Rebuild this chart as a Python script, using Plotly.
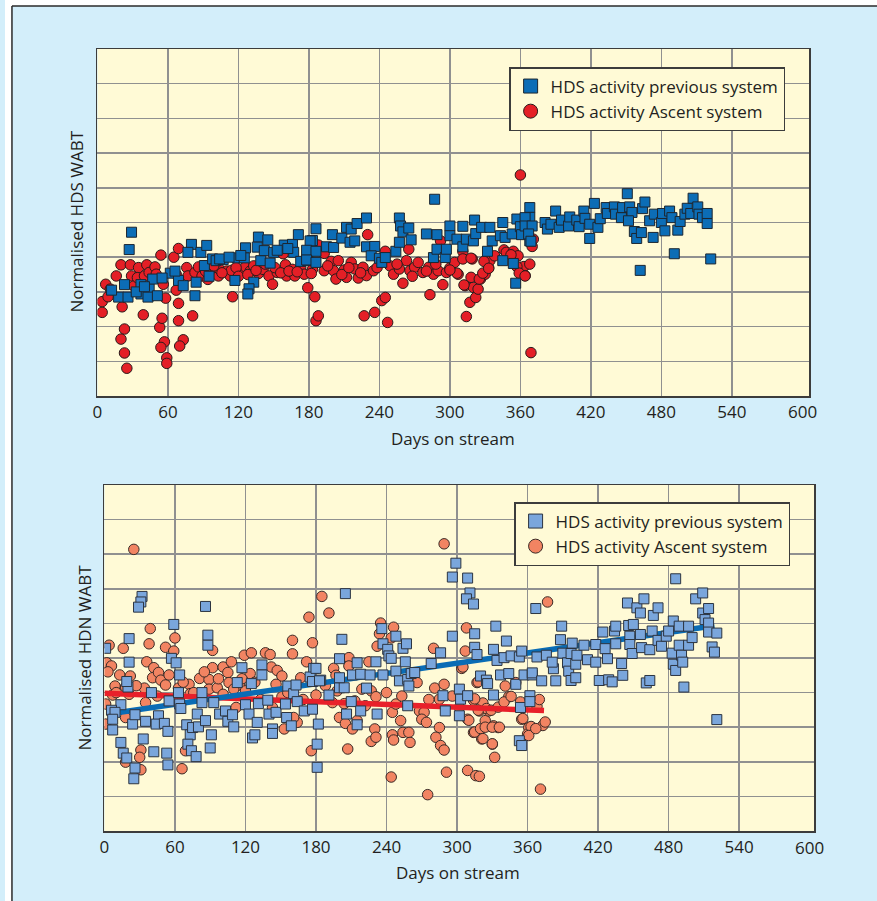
import plotly.graph_objects as go

# ---------------- Top chart (HDS) ----------------
top_prev_days = [29,27,23,18,26,37,37,44,43,47,51,62,69,73,84,83,80,77,88,93,91,95,98,101,107,117,119,126,125,133,129,128,137,136,139,142,145,147,150,159,166,167,171,173,181,183,179,186,
                 181,178,186,178,186,195,200,201,212,208,216,221,229,215,219,229,236,233,240,242,245,254,257,257,258,260,265,267,280,287,289,286,289,296,297,300,300,306,311,311,314,321,320,322,327,334,336,332,345,343,347,345,354,356,357,353,360,361,368,368,368,
                 364,364,370,367,369,381,383,386,390,393,395,401,402,408,410,414,415,419,419,423,426,428,433,434,440,441,446,451,447,453,455,452,457,459,463,462,464,466,470,473,474,480,481,483,487,489,491,494,496,500,502,505,507,511,512,515,519,519,522,
                 12,33,40,55,66,104,112,122,153,162]
top_prev_vals = [4.72,4.22,3.21,2.85,2.85,3.21,2.94,3.09,2.85,3.37,2.89,3.54,3.33,3.18,3.28,2.89,4.37,4.14,4.14,4.34,3.76,3.45,3.95,3.90,3.93,3.33,3.98,4.27,3.98,3.28,3.09,2.94,4.58,4.29,3.90,4.19,4.50,3.83,4.14,4.35,4.37,4.14,4.65,3.88,4.19,4.48,3.90,4.82,
                 4.47,4.20,4.17,3.92,3.85,4.30,4.65,4.28,4.86,4.55,4.81,4.97,5.13,4.43,4.47,4.30,4.31,4.04,3.97,3.85,3.99,4.17,4.43,5.13,4.90,4.73,4.84,4.50,4.67,5.67,4.65,3.99,4.23,3.99,4.23,4.90,4.62,4.52,4.89,4.30,4.52,5.07,4.47,4.68,4.86,4.86,4.47,4.17,5.00,4.62,4.57,3.90,3.82,3.25,5.10,4.67,4.88,4.65,5.43,5.15,4.47,
                 5.14,4.90,4.90,4.67,4.46,5.00,4.81,4.95,5.33,4.86,5.07,4.90,5.16,5.07,4.88,5.33,5.12,4.95,4.54,5.55,4.86,5.11,5.43,5.26,5.45,5.24,5.14,5.83,5.43,5.45,5.29,5.05,4.74,4.54,4.71,3.62,5.40,5.59,5.05,4.57,5.24,5.00,5.26,4.76,5.33,5.14,4.10,4.78,5.03,5.24,5.41,5.26,5.70,5.45,5.24,5.14,5.26,4.97,3.95,
                 3.05,3.00,3.15,3.40,3.60,3.95,4.00,4.05,4.20,4.25]

top_asc_days = [4,4,7,9,11,16,20,21,23,20,23,25,28,29,31,35,34,39,40,42,44,49,50,54,53,55,56,58,57,54,59,59,65,69,67,67,69,69,73,70,81,76,77,83,86,89,94,96,103,104,110,115,113,114,123,126,130,133,137,141,146,149,153,158,160,161,166,168,173,176,179,183,185,186,
                188,182,188,193,193,199,201,203,205,210,212,216,219,222,226,230,227,229,235,236,242,245,247,245,249,252,257,260,263,265,266,270,273,277,282,283,286,290,292,294,297,300,304,307,311,311,313,314,317,319,320,322,324,326,330,333,334,338,346,348,354,358,360,363,364,368,
                312,318,318,325,328,329,333,352,357,359,364,371,370,369,306,300,
                92,99,106,118,120,128,135,143,151,156,163,170,196,208,214,224,238,255,268,280,288]
top_asc_vals = [2.72,2.41,3.22,2.86,3.08,3.46,3.78,2.57,1.93,1.64,1.24,0.80,3.78,3.46,3.17,3.70,3.41,2.34,3.46,3.78,3.56,3.72,3.51,4.06,1.98,2.24,3.22,2.82,1.56,1.40,1.10,0.94,4.00,4.25,3.51,3.05,2.67,2.17,1.62,1.44,2.31,3.70,3.46,3.56,3.72,3.46,3.36,3.65,3.46,3.65,3.60,2.86,3.46,3.62,3.60,3.72,3.60,3.75,3.53,3.65,3.46,3.22,3.56,4.10,3.78,3.46,3.65,3.46,3.70,3.51,3.12,3.65,2.86,2.17,
                2.31,3.53,4.35,4.11,3.61,3.88,3.61,3.37,3.90,3.63,3.42,3.85,3.66,3.40,3.71,4.65,2.31,3.47,3.61,2.41,2.75,2.84,2.12,4.17,3.75,3.51,3.66,3.25,3.90,4.23,3.61,3.71,3.85,3.56,3.71,2.92,3.51,3.61,4.47,3.21,3.56,3.69,3.85,3.51,4.17,3.95,3.18,2.29,2.70,3.95,3.13,2.84,3.08,3.37,3.51,3.69,3.90,4.04,4.21,4.14,4.17,4.04,6.37,3.73,3.47,3.80,
                3.20,3.42,3.97,3.37,3.54,3.88,3.68,4.07,3.73,3.54,3.46,4.52,4.31,1.25,3.54,3.63,
                3.60,3.75,3.55,3.70,3.45,3.50,3.62,3.80,3.70,3.55,3.60,3.58,3.75,3.50,3.70,3.55,3.70,3.80,3.45,3.60,3.80]

# ---------------- Bottom chart (HDN) ----------------
bot_prev_days = [1,32,31,29,21,21,20,19,14,6,9,7,7,14,16,19,26,25,24,26,35,33,40,42,46,44,51,54,53,54,55,59,57,61,64,63,64,65,70,73,75,80,71,74,78,83,83,79,86,91,90,86,88,88,93,98,103,105,109,110,113,117,120,123,125,130,126,128,131,134,134,139,140,143,143,146,154,155,156,159,161,163,164,170,177,178,175,177,184,182,181,181,
                 205,202,200,180,183,191,200,204,200,210,206,218,215,211,215,218,223,226,231,232,237,236,237,241,242,244,248,254,257,248,251,256,258,261,264,259,258,278,286,288,290,296,299,296,309,311,308,314,302,303,302,309,315,315,317,320,325,326,331,333,331,334,337,342,340,344,346,350,353,355,354,357,362,362,364,367,368,353,355,
                 376,364,372,382,381,384,388,389,390,394,395,397,398,397,401,401,402,408,411,418,418,421,424,426,428,429,432,434,435,435,440,441,445,446,447,447,449,450,453,456,459,456,457,464,461,464,466,467,471,471,474,478,480,484,486,483,484,486,489,489,491,492,493,497,497,500,503,509,509,511,514,514,514,517,519,521,521]
bot_prev_vals = [5.28,6.78,6.62,6.47,5.56,4.88,4.16,4.32,3.65,3.49,3.43,3.23,2.92,2.56,2.25,2.11,1.82,1.51,3.09,3.36,3.17,2.66,4.00,2.29,3.33,3.09,3.11,2.88,2.25,1.91,3.76,5.97,4.99,4.86,4.51,4.00,3.67,3.54,3.07,2.78,2.99,3.01,2.51,2.32,2.15,4.00,3.71,3.38,3.19,2.78,2.40,6.49,5.66,5.37,3.71,3.38,3.47,3.17,3.36,3.01,4.29,4.72,3.65,3.38,4.26,3.14,2.69,2.78,3.68,4.80,4.51,3.78,3.38,2.95,2.82,3.43,3.67,3.28,4.19,3.04,3.97,4.22,3.74,3.47,3.52,4.70,4.45,4.32,4.36,3.09,2.51,1.84,
                 6.86,5.54,4.98,4.70,4.34,3.93,4.14,4.14,4.43,3.74,3.38,3.47,3.07,4.51,4.86,4.53,4.13,4.51,4.89,3.38,4.51,5.85,5.41,5.25,5.06,4.99,5.63,5.28,5.41,4.62,4.34,4.89,4.38,4.55,4.58,4.19,3.62,4.84,5.15,3.91,3.47,5.63,7.74,7.34,7.31,6.88,6.71,6.56,4.10,3.81,3.33,3.91,5.70,5.31,5.10,4.48,4.36,4.26,3.93,5.92,5.25,4.93,4.51,5.49,5.01,4.55,5.06,4.24,5.03,5.20,3.57,4.51,3.91,3.74,4.51,6.43,5.03,2.61,2.47,
                 5.08,4.57,4.34,4.69,4.88,4.34,5.53,5.92,5.14,4.86,4.62,4.35,5.43,5.13,4.82,4.43,5.08,5.37,4.95,5.39,4.88,4.35,5.75,5.27,4.98,4.37,4.31,5.78,5.92,5.41,4.84,4.50,6.59,5.94,5.63,5.39,5.13,5.97,6.45,6.30,6.71,5.68,5.30,5.24,4.28,4.35,5.78,6.23,6.45,5.51,5.34,5.63,5.78,6.07,7.29,5.14,4.82,4.64,5.92,5.37,5.08,4.88,4.16,5.92,5.37,5.59,6.71,6.88,6.30,6.11,6.43,6.01,5.75,5.32,5.17,5.72,3.22]

bot_asc_days = [25,4,2,6,3,9,7,1,1,16,13,22,18,21,18,31,30,18,31,39,38,36,42,41,46,48,52,34,35,52,60,59,55,63,66,69,72,73,81,89,92,92,89,96,101,105,106,108,101,112,115,119,125,124,120,137,141,142,147,151,146,151,143,153,160,160,172,167,174,177,185,180,176,164,161,
                191,195,208,208,198,194,204,213,200,205,215,211,230,227,231,207,225,227,231,222,235,246,244,232,234,245,248,252,245,254,259,260,246,262,266,268,272,270,274,285,282,286,289,280,281,289,285,244,275,291,289,308,307,304,302,309,314,314,319,321,324,327,331,330,332,309,316,317,335,341,344,350,355,361,360,371,
                305,318,322,325,329,335,340,346,315,318,310,315,320,324,330,336,322,330,319,377,354,356,363,361,368,370,373,375,367,
                10,27,45,58,67,76,85,97,110,117,128,133,156,169,188,197,219,240,253,276,296]
bot_asc_vals = [8.14,5.37,4.86,4.77,4.60,4.19,3.93,3.67,3.09,5.28,4.51,4.48,4.16,3.95,3.28,2.34,2.13,1.99,1.77,5.85,5.41,4.89,4.72,4.43,4.58,4.36,4.22,4.13,3.71,5.31,5.58,5.20,4.51,4.13,1.80,2.32,4.24,3.97,4.41,4.38,5.22,4.72,4.10,4.14,4.74,4.58,4.29,4.89,3.95,3.57,4.22,5.08,5.15,4.55,4.05,5.15,5.10,4.74,4.64,4.48,4.24,3.88,3.57,2.95,5.51,5.12,4.89,4.43,6.18,5.44,6.78,3.93,2.32,3.14,3.28,
                6.30,4.70,5.01,4.77,4.05,3.71,3.68,3.76,3.28,3.11,3.19,2.95,2.95,2.59,2.71,2.37,4.89,4.05,3.88,3.62,6.01,5.89,5.58,5.34,5.70,3.43,3.67,3.19,2.78,2.85,2.85,2.56,2.63,4.34,4.29,3.47,3.43,3.23,3.14,2.99,2.71,2.47,2.34,5.28,4.13,4.24,3.81,1.56,1.05,1.70,8.30,5.87,5.20,4.70,3.57,3.23,3.78,2.85,3.47,2.66,3.19,3.47,3.04,2.51,2.13,1.75,1.60,4.29,2.99,4.19,3.88,4.29,3.23,2.99,2.80,1.21,
                4.74,4.31,3.70,3.54,3.49,3.58,3.73,3.89,3.82,3.49,3.20,2.86,2.96,3.00,3.00,3.00,2.67,2.52,1.58,6.62,3.73,3.25,3.02,2.76,3.60,3.80,3.05,3.15,2.96,
                4.00,4.20,3.90,3.80,4.30,4.00,4.60,4.40,4.10,4.40,4.30,3.80,4.00,3.80,4.20,4.50,4.10,4.00,3.90,3.80,3.90]

# trend lines (end points)
prev_trend_days = [3, 519]
prev_trend_vals = [3.38, 5.93]
asc_trend_days = [0, 374]
asc_trend_vals = [3.98, 3.48]

x_ticks = [0, 60, 120, 180, 240, 300, 360, 420, 480, 540]
last_tick = 600
legend_names = ["HDS activity previous system", "HDS activity Ascent system"]

W, H = 877, 901
FONT = "Open Sans"
TXT = "#231f20"
PAPER = "#d3eefa"
PLOTBG = "#fffad6"
GRID = "#909090"
BORDER = "#3c3c3c"

def px(x):
    return x / W

def py(y):
    return 1 - y / H

fig = go.Figure()

# top chart
fig.add_trace(go.Scatter(x=top_asc_days, y=top_asc_vals, mode="markers", xaxis="x", yaxis="y",
                         showlegend=False,
                         marker=dict(symbol="circle", size=10.5, color="#e41f26",
                                     line=dict(color="#2a1a1a", width=1))))
fig.add_trace(go.Scatter(x=top_prev_days, y=top_prev_vals, mode="markers", xaxis="x", yaxis="y",
                         showlegend=False,
                         marker=dict(symbol="square", size=10, color="#0c6db6",
                                     line=dict(color="#1c2630", width=1))))
fig.add_trace(go.Scatter(x=[None], y=[None], mode="markers", xaxis="x", yaxis="y", name=legend_names[0],
                         legend="legend",
                         marker=dict(symbol="square", size=14, color="#0c6db6", line=dict(color="#1c2630", width=1))))
fig.add_trace(go.Scatter(x=[None], y=[None], mode="markers", xaxis="x", yaxis="y", name=legend_names[1],
                         legend="legend",
                         marker=dict(symbol="circle", size=14, color="#e41f26", line=dict(color="#2a1a1a", width=1))))

# bottom chart
fig.add_trace(go.Scatter(x=bot_asc_days, y=bot_asc_vals, mode="markers", xaxis="x2", yaxis="y2",
                         showlegend=False,
                         marker=dict(symbol="circle", size=10.5, color="#f28462",
                                     line=dict(color="#3a2a26", width=1))))
fig.add_trace(go.Scatter(x=asc_trend_days, y=asc_trend_vals, mode="lines", xaxis="x2", yaxis="y2",
                         showlegend=False, line=dict(color="#e8202a", width=5.5)))
fig.add_trace(go.Scatter(x=prev_trend_days, y=prev_trend_vals, mode="lines", xaxis="x2", yaxis="y2",
                         showlegend=False, line=dict(color="#0a6cb5", width=5.5)))
fig.add_trace(go.Scatter(x=bot_prev_days, y=bot_prev_vals, mode="markers", xaxis="x2", yaxis="y2",
                         showlegend=False,
                         marker=dict(symbol="square", size=10, color="#7aa6dc",
                                     line=dict(color="#2c3440", width=1))))
fig.add_trace(go.Scatter(x=[None], y=[None], mode="markers", xaxis="x2", yaxis="y2", name=legend_names[0],
                         legend="legend2",
                         marker=dict(symbol="square", size=14, color="#7aa6dc", line=dict(color="#2c3440", width=1))))
fig.add_trace(go.Scatter(x=[None], y=[None], mode="markers", xaxis="x2", yaxis="y2", name=legend_names[1],
                         legend="legend2",
                         marker=dict(symbol="circle", size=14, color="#f28462", line=dict(color="#3a2a26", width=1))))

xcommon = dict(showgrid=True, gridcolor=GRID, gridwidth=1.5, zeroline=False,
               showline=True, mirror=True, linecolor=BORDER, linewidth=1.5,
               tickmode="array", tickvals=x_ticks, ticks="",
               tickfont=dict(family=FONT, size=17, color=TXT), fixedrange=True)
ycommon = dict(showgrid=True, gridcolor=GRID, gridwidth=1.5, zeroline=False,
               showline=True, mirror=True, linecolor=BORDER, linewidth=1.5,
               range=[0, 10], dtick=1, tick0=0, showticklabels=False, ticks="", fixedrange=True)

fig.update_layout(
    width=W, height=H,
    margin=dict(l=0, r=0, t=0, b=0),
    paper_bgcolor=PAPER, plot_bgcolor=PLOTBG,
    font=dict(family=FONT, size=17, color=TXT),
    hovermode=False,
    xaxis=dict(domain=[px(93), px(809)], range=[0, 606], anchor="y", **xcommon),
    yaxis=dict(domain=[py(396), py(49)], anchor="x", **ycommon),
    xaxis2=dict(domain=[px(100), px(814)], range=[0, 604], anchor="y2", **xcommon),
    yaxis2=dict(domain=[py(831), py(485)], anchor="x2", **ycommon),
    legend=dict(x=px(507), y=py(67), xanchor="left", yanchor="top",
                bgcolor=PLOTBG, bordercolor=BORDER, borderwidth=1.5,
                font=dict(family=FONT, size=17, color=TXT), tracegroupgap=0),
    legend2=dict(x=px(512), y=py(502), xanchor="left", yanchor="top",
                 bgcolor=PLOTBG, bordercolor=BORDER, borderwidth=1.5,
                 font=dict(family=FONT, size=17, color=TXT), tracegroupgap=0),
    showlegend=True,
)

annots = [
    dict(text="Days on stream", x=px(451), y=py(438), xref="paper", yref="paper", showarrow=False,
         xanchor="center", yanchor="middle", font=dict(family=FONT, size=17, color=TXT)),
    dict(text="Days on stream", x=px(456), y=py(872), xref="paper", yref="paper", showarrow=False,
         xanchor="center", yanchor="middle", font=dict(family=FONT, size=17, color=TXT)),
    dict(text="Normalised HDS WABT", x=px(72), y=py(222), xref="paper", yref="paper", showarrow=False,
         textangle=-90, xanchor="center", yanchor="middle", font=dict(family=FONT, size=17, color=TXT)),
    dict(text="Normalised HDN WABT", x=px(79), y=py(658), xref="paper", yref="paper", showarrow=False,
         textangle=-90, xanchor="center", yanchor="middle", font=dict(family=FONT, size=17, color=TXT)),
    dict(text=str(last_tick), x=last_tick, y=py(412), xref="x", yref="paper", showarrow=False,
         xanchor="center", yanchor="middle", font=dict(family=FONT, size=17, color=TXT)),
    dict(text=str(last_tick), x=last_tick, y=py(847), xref="x2", yref="paper", showarrow=False,
         xanchor="center", yanchor="middle", font=dict(family=FONT, size=17, color=TXT)),
]
fig.update_layout(annotations=annots)

shapes = [
    dict(type="rect", xref="paper", yref="paper", x0=0, x1=px(7), y0=0, y1=1,
         fillcolor="white", line=dict(width=0), layer="above"),
    dict(type="rect", xref="paper", yref="paper", x0=0, x1=1, y0=py(6), y1=1,
         fillcolor="white", line=dict(width=0), layer="above"),
    dict(type="line", xref="paper", yref="paper", x0=px(7), x1=px(7), y0=0, y1=py(6),
         line=dict(color="#2a2a2a", width=1.5), layer="above"),
    dict(type="line", xref="paper", yref="paper", x0=px(7), x1=1, y0=py(6), y1=py(6),
         line=dict(color="#2a2a2a", width=1.5), layer="above"),
]
fig.update_layout(shapes=shapes)

fig.write_html("out.html",
               config={"displayModeBar": False, "staticPlot": True},
               post_script="document.body.style.margin='0px';document.body.style.overflow='hidden';")
